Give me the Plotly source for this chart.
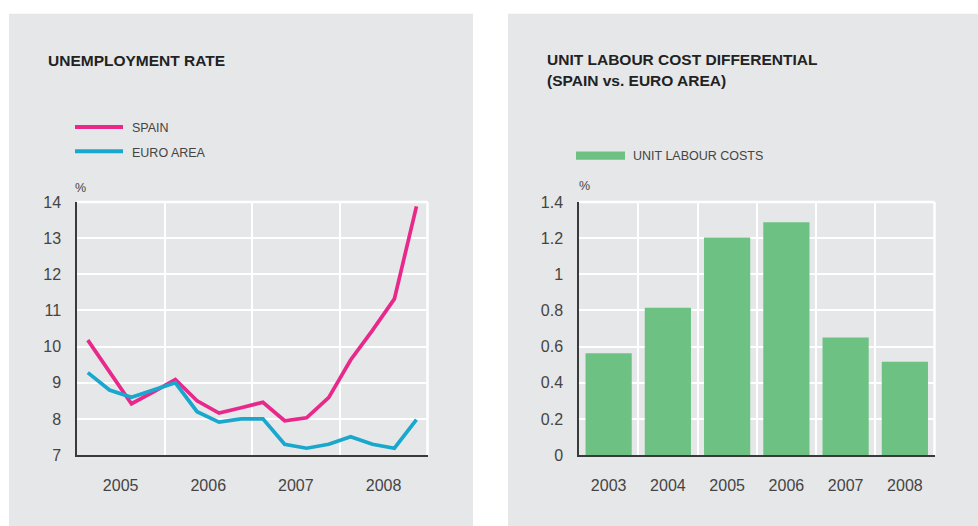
import plotly.graph_objects as go

# ---------------- data ----------------
quarters = ["2005-01-01", "2005-04-01", "2005-07-01", "2005-10-01",
            "2006-01-01", "2006-04-01", "2006-07-01", "2006-10-01",
            "2007-01-01", "2007-04-01", "2007-07-01", "2007-10-01",
            "2008-01-01", "2008-04-01", "2008-07-01", "2008-10-01"]
spain = [10.18, 9.3, 8.42, 8.75, 9.09, 8.5, 8.16, 8.31,
         8.46, 7.95, 8.03, 8.59, 9.63, 10.45, 11.32, 13.88]
euro_area = [9.28, 8.8, 8.6, 8.8, 9.0, 8.2, 7.91, 8.0,
             8.0, 7.3, 7.19, 7.3, 7.51, 7.3, 7.19, 7.98]

bar_years = ["2003", "2004", "2005", "2006", "2007", "2008"]
unit_labour_costs = [0.563, 0.815, 1.204, 1.288, 0.650, 0.516]

left_title = "UNEMPLOYMENT RATE"
right_title = ["UNIT LABOUR COST DIFFERENTIAL", "(SPAIN vs. EURO AREA)"]
line_labels = ["SPAIN", "EURO AREA"]
bar_label = "UNIT LABOUR COSTS"
unit_label = "%"

# ---------------- style ----------------
W, H = 978, 526
PANEL = "#E6E7E8"
PINK = "#E8288A"
BLUE = "#1AA7CE"
GREEN = "#6DC283"
AXIS = "#3A3A3A"
TICK = "#444444"
FONT = "Liberation Sans, Arial, sans-serif"


def px(x):
    return x / W


def py(y):
    return 1 - y / H


fig = go.Figure()

fig.add_trace(go.Scatter(x=quarters, y=spain, xperiod="M3", xperiodalignment="middle",
                         mode="lines", line=dict(color=PINK, width=3.7),
                         name=line_labels[0], xaxis="x", yaxis="y", showlegend=False))
fig.add_trace(go.Scatter(x=quarters, y=euro_area, xperiod="M3", xperiodalignment="middle",
                         mode="lines", line=dict(color=BLUE, width=3.7),
                         name=line_labels[1], xaxis="x", yaxis="y", showlegend=False))
fig.add_trace(go.Bar(x=bar_years, y=unit_labour_costs, marker=dict(color=GREEN, line=dict(width=0)),
                     name=bar_label, xaxis="x2", yaxis="y2", showlegend=False))

tickfont = dict(family=FONT, size=16, color=TICK)

fig.update_layout(
    width=W, height=H,
    margin=dict(l=0, r=0, t=0, b=0),
    paper_bgcolor="white",
    plot_bgcolor=PANEL,
    bargap=0.22,
    xaxis=dict(domain=[px(77), px(427.5)], type="date",
               range=["2005-01-01", "2009-01-01"],
               tickvals=["2005-07-02", "2006-07-02", "2007-07-02", "2008-07-02"],
               ticktext=["2005", "2006", "2007", "2008"],
               showgrid=False, zeroline=False,
               minor=dict(tickvals=["2006-01-01", "2007-01-01", "2008-01-01"],
                          showgrid=True, gridcolor="white", gridwidth=2, ticks=""),
               showline=True, linecolor=AXIS, linewidth=1.5,
               ticks="", ticklabelstandoff=15, tickfont=tickfont, anchor="y"),
    yaxis=dict(domain=[py(462), py(200.5)], range=[7, 14], dtick=1, tick0=7,
               showgrid=True, gridcolor="white", gridwidth=2, zeroline=False,
               showline=True, linecolor=AXIS, linewidth=1.5,
               ticks="", ticklabelstandoff=11, tickfont=tickfont, anchor="x"),
    xaxis2=dict(domain=[px(579), px(934.5)], type="category",
                range=[-0.5, 5.5], tickson="boundaries",
                showgrid=True, gridcolor="white", gridwidth=2, zeroline=False,
                showline=True, linecolor=AXIS, linewidth=1.5,
                ticks="", ticklabelstandoff=15, tickfont=tickfont, anchor="y2"),
    yaxis2=dict(domain=[py(462), py(200.5)], range=[0, 1.4], dtick=0.2, tick0=0,
                showgrid=True, gridcolor="white", gridwidth=2, zeroline=False,
                showline=True, linecolor=AXIS, linewidth=1.5,
                ticks="", ticklabelstandoff=11, tickfont=tickfont, anchor="x2"),
)

shapes = [
    # grey panels
    dict(type="rect", xref="paper", yref="paper", x0=px(9), x1=px(473), y0=-0.05, y1=py(6),
         fillcolor=PANEL, line=dict(width=0), layer="below"),
    dict(type="rect", xref="paper", yref="paper", x0=px(508), x1=1.05, y0=-0.05, y1=py(6),
         fillcolor=PANEL, line=dict(width=0), layer="below"),
    # white top / right borders of the plot areas
    dict(type="line", xref="x domain", yref="y domain", x0=0, x1=1, y0=1, y1=1,
         line=dict(color="white", width=2.5), layer="below"),
    dict(type="line", xref="x domain", yref="y domain", x0=1, x1=1, y0=0, y1=1,
         line=dict(color="white", width=2.5), layer="below"),
    dict(type="line", xref="x2 domain", yref="y2 domain", x0=0, x1=1, y0=1, y1=1,
         line=dict(color="white", width=2.5), layer="below"),
    dict(type="line", xref="x2 domain", yref="y2 domain", x0=1, x1=1, y0=0, y1=1,
         line=dict(color="white", width=2.5), layer="below"),
    # legend keys
    dict(type="line", xref="paper", yref="paper", x0=px(75), x1=px(123), y0=py(123), y1=py(123),
         line=dict(color=PINK, width=4)),
    dict(type="line", xref="paper", yref="paper", x0=px(75), x1=px(123), y0=py(148), y1=py(148),
         line=dict(color=BLUE, width=4)),
    dict(type="rect", xref="paper", yref="paper", x0=px(576), x1=px(625), y0=py(156.7), y1=py(148.3),
         fillcolor=GREEN, line=dict(width=0)),
]
fig.update_layout(shapes=shapes)

title_font = dict(family=FONT, size=15.5, color="#222222")
leg_font = dict(family=FONT, size=12.5, color=TICK)


def ann(text, x, y, font, xanchor="left"):
    return dict(text=text, x=px(x), y=py(y), xref="paper", yref="paper",
                xanchor=xanchor, yanchor="middle", showarrow=False, font=font)


annotations = [
    ann("<b>" + left_title + "</b>", 46, 54, title_font),
    ann("<b>" + right_title[0] + "</b>", 545, 53, title_font),
    ann("<b>" + right_title[1] + "</b>", 545, 75, title_font),
    ann(line_labels[0], 130, 124, leg_font),
    ann(line_labels[1], 130, 150, leg_font),
    ann(bar_label, 631, 153, leg_font),
    ann(unit_label, 73, 186, leg_font),
    ann(unit_label, 577, 184, leg_font),
]
fig.update_layout(annotations=annotations)

fig.write_html("out.html")
